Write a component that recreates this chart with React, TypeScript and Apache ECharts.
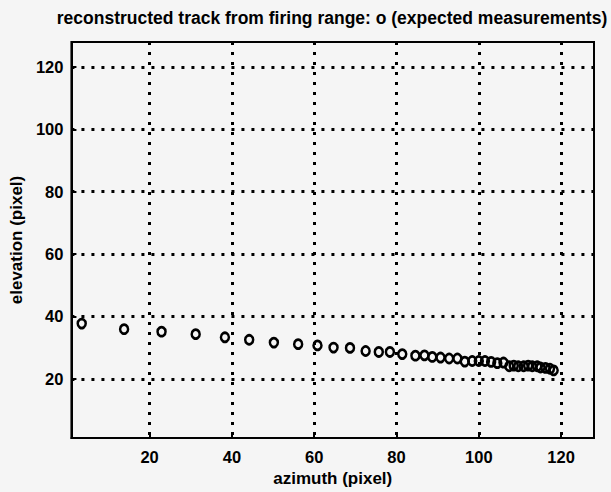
import React, { useEffect, useRef } from "react";
import * as echarts from "echarts";

const titleText = "reconstructed track from firing range: o (expected measurements)";
const xName = "azimuth (pixel)";
const yName = "elevation (pixel)";
const tickValues = [20, 40, 60, 80, 100, 120];

const azimuth = [
  3.5, 13.8, 22.9, 31.2, 38.3, 44.2, 50.2, 56.1, 60.8, 64.7, 68.7, 72.5, 75.7, 78.4,
  81.4, 84.6, 86.8, 88.7, 90.7, 92.8, 94.8, 96.6, 98.4, 100.0, 101.5, 103.0, 104.5,
  106.0, 107.4, 108.5, 109.6, 110.9, 112.0, 113.0, 114.2, 115.0, 116.2, 117.3, 118.2,
];
const elevation = [
  37.7, 35.9, 35.1, 34.3, 33.3, 32.5, 31.6, 31.1, 30.7, 30.0, 29.9, 28.9, 28.6, 28.6,
  27.9, 27.4, 27.5, 27.0, 26.8, 26.5, 26.5, 25.5, 25.7, 25.7, 25.7, 25.4, 25.0,
  25.2, 24.0, 24.2, 24.0, 24.0, 24.2, 24.0, 24.0, 23.6, 23.5, 23.2, 22.7,
];

const FONT = "'Liberation Sans', Arial, Helvetica, sans-serif";

export default function App() {
  const ref = useRef<HTMLDivElement>(null);
  useEffect(() => {
    if (!ref.current) return;
    const chart = echarts.init(ref.current, null, { renderer: "svg" });
    const data = azimuth.map((x, i) => [x, elevation[i]]);
    const dotted = { color: "#000", width: 3, type: [3, 7] as number[] };
    const labelBase = {
      customValues: tickValues,
      color: "#000",
      fontSize: 16.5,
      fontWeight: "bold" as const,
      fontFamily: FONT,
    };
    const axisCommon = {
      type: "value" as const,
      min: 1,
      max: 128,
      axisLine: { show: true, onZero: false, lineStyle: { color: "#000", width: 2 } },
      axisTick: { show: true, inside: true, length: 5, customValues: tickValues, lineStyle: { color: "#000", width: 2 } },
      splitLine: { show: true, lineStyle: dotted },
      nameLocation: "middle" as const,
      nameTextStyle: { color: "#000", fontSize: 17, fontWeight: "bold" as const, fontFamily: FONT },
    };
    chart.setOption({
      animation: false,
      backgroundColor: "#f5f5f5",
      title: {
        text: titleText,
        left: 327,
        textAlign: "center",
        top: 4,
        textStyle: { color: "#000", fontSize: 17.5, fontWeight: "bold", fontFamily: FONT },
      },
      grid: {
        left: 71,
        right: 17,
        top: 42,
        bottom: 45,
        show: true,
        borderColor: "#000",
        borderWidth: 2,
        backgroundColor: "transparent",
      },
      xAxis: {
        ...axisCommon,
        name: xName,
        nameGap: 32,
        axisLabel: { ...labelBase, margin: 10 },
      },
      yAxis: {
        ...axisCommon,
        name: yName,
        nameGap: 33,
        axisLabel: { ...labelBase, margin: 8 },
      },
      series: [
        {
          type: "scatter",
          data,
          symbol: "circle",
          symbolSize: [8, 9],
          itemStyle: { color: "rgba(0,0,0,0)", borderColor: "#000", borderWidth: 2.6, opacity: 1 },
          z: 5,
        },
      ],
    });
    return () => chart.dispose();
  }, []);
  return (
    <div
      ref={ref}
      style={{ position: "absolute", left: 0, top: 0, width: 611, height: 492 }}
    />
  );
}
